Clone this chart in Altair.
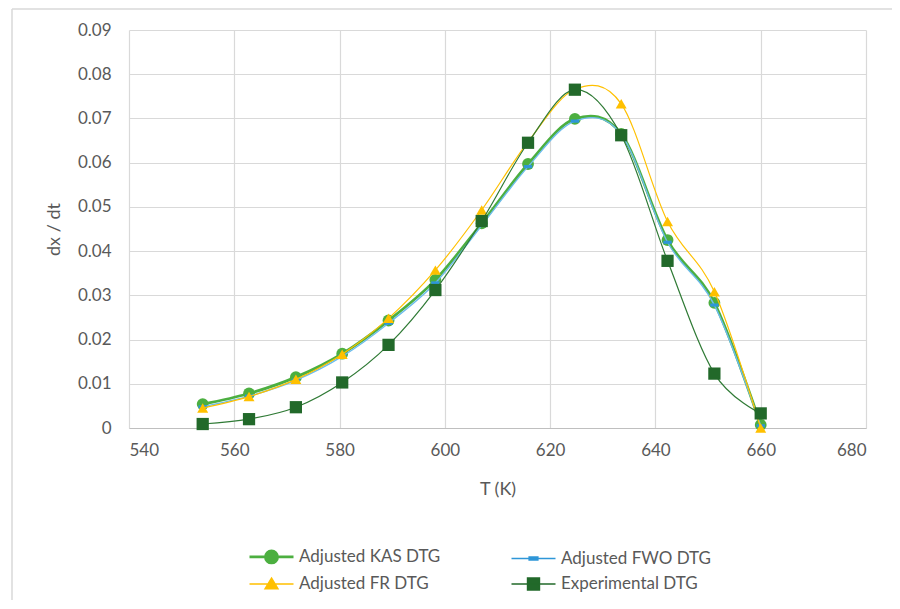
import altair as alt
import pandas as pd

# ---- data ----
T = [554.0, 562.8, 571.7, 580.5, 589.3, 598.2, 607.0, 615.8, 624.7, 633.5, 642.3, 651.2, 660.0]
kas = [0.0054, 0.0078, 0.0115, 0.0168, 0.0243, 0.0335, 0.0463, 0.0597, 0.0699, 0.0665, 0.0425, 0.0283, 0.0007]
fwo = [0.0048, 0.0072, 0.0108, 0.0162, 0.0237, 0.0328, 0.0458, 0.0591, 0.0694, 0.0664, 0.0420, 0.0278, 0.0005]
fr = [0.0045, 0.0071, 0.0110, 0.0167, 0.0248, 0.0357, 0.0493, 0.0647, 0.0766, 0.0733, 0.0467, 0.0308, 0.0000]
expv = [0.0009, 0.0020, 0.0047, 0.0103, 0.0188, 0.0312, 0.0468, 0.0645, 0.0765, 0.0662, 0.0378, 0.0123, 0.0033]

names = ["Adjusted KAS DTG", "Adjusted FWO DTG", "Adjusted FR DTG", "Experimental DTG"]
x_ticks = [540, 560, 580, 600, 620, 640, 660, 680]
y_ticks = [0, 0.01, 0.02, 0.03, 0.04, 0.05, 0.06, 0.07, 0.08, 0.09]

colors = ["#4CAF40", "#2E96D8", "#FFC000", "#22692A"]
line_colors = ["#4CAF40", "#6CBCEB", "#FFC000", "#2F7A35"]
line_widths = [2.8, 1.4, 1.2, 1.2]

rows = []
for name, vals in zip(names, [kas, fwo, fr, expv]):
    for t, v in zip(T, vals):
        rows.append({"T": t, "value": v, "series": name})
df = pd.DataFrame(rows)

FONT = "Lato"
GRAY = "#595959"

xscale = alt.Scale(domain=[540, 680], nice=False, zero=False)
yscale = alt.Scale(domain=[0, 0.09], nice=False)

x_enc = alt.X("T:Q", scale=xscale,
              axis=alt.Axis(values=x_ticks, title="T (K)", grid=True, ticks=False,
                            domain=True, domainColor="#BFBFBF", labelPadding=14,
                            titlePadding=22))
y_enc = alt.Y("value:Q", scale=yscale,
              axis=alt.Axis(values=y_ticks, title="dx / dt", grid=True, ticks=False,
                            domain=False, labelPadding=18, titlePadding=14,
                            labelExpr="datum.value == 0 ? '0' : format(datum.value, '.2f')"))

base = alt.Chart(df)
one_row = "datum.T == 554 && datum.series == 'Experimental DTG'"

# decorative outer frame (top and left edges of the chart box)
frame_top = alt.Chart(df).transform_filter(one_row).mark_rule(
    color="#D9D9D9", strokeWidth=1.5).encode(
    x=alt.value(-117), x2=alt.value(900), y=alt.value(-21))
frame_left = alt.Chart(df).transform_filter(one_row).mark_rule(
    color="#D9D9D9", strokeWidth=1.5).encode(
    x=alt.value(-117), y=alt.value(-21), y2=alt.value(800))

marker_shapes = [
    dict(shape="circle", size=140),
    dict(shape="M-1,-0.38H1V0.38H-1Z", size=70),
    dict(shape="triangle-up", size=120),
    dict(shape="square", size=150),
]

layers = [frame_top, frame_left]
for i, name in enumerate(names):
    sub = base.transform_filter(alt.datum.series == name)
    layers.append(sub.mark_line(interpolate="cardinal", color=line_colors[i],
                                strokeWidth=line_widths[i]).encode(x=x_enc, y=y_enc))
    layers.append(sub.mark_point(filled=True, opacity=1, color=colors[i],
                                 **marker_shapes[i]).encode(x=x_enc, y=y_enc))

# legend-only layer (no rows drawn)
legend_paths = [
    "M-2,0H2M-0.55,0A0.55,0.55 0 1,0 0.55,0A0.55,0.55 0 1,0 -0.55,0Z",
    "M-2,0H2M-0.4,-0.14H0.4V0.14H-0.4Z",
    "M-2,0H2M0,-0.55L0.6,0.45L-0.6,0.45Z",
    "M-2,0H2M-0.55,-0.55H0.55V0.55H-0.55Z",
]
leg = alt.Legend(title=None, orient="none", legendX=130, legendY=514, columns=2,
                 direction="horizontal",
                 columnPadding=67, rowPadding=3, symbolSize=484, labelOffset=15,
                 labelFont=FONT, labelFontSize=17, labelColor=GRAY, padding=0,
                 labelLimit=300)
legend_layer = base.transform_filter("datum.T < 0").mark_point(filled=True, opacity=1).encode(
    x=x_enc, y=y_enc,
    fill=alt.Fill("series:N", scale=alt.Scale(domain=names, range=colors), legend=leg),
    stroke=alt.Stroke("series:N", scale=alt.Scale(domain=names, range=colors), legend=leg),
    shape=alt.Shape("series:N", scale=alt.Scale(domain=names, range=legend_paths), legend=leg),
    strokeWidth=alt.StrokeWidth("series:N", scale=alt.Scale(type="ordinal", domain=names,
                                                            range=[2.8, 1.4, 1.3, 1.3]), legend=leg),
)
layers.append(legend_layer)

chart = alt.layer(*layers).properties(
    width=737, height=398,
    autosize=alt.AutoSizeParams(type="none"),
    padding={"left": 121, "top": 22, "right": 26, "bottom": 172},
    background="white",
).configure_view(strokeWidth=0).configure_axis(
    labelFont=FONT, labelFontSize=17, labelColor=GRAY,
    titleFont=FONT, titleFontSize=18, titleColor=GRAY, titleFontWeight="normal",
    gridColor="#D9D9D9", gridWidth=1.2,
)

chart.save("out.html", embed_options={"renderer": "svg", "actions": False})
